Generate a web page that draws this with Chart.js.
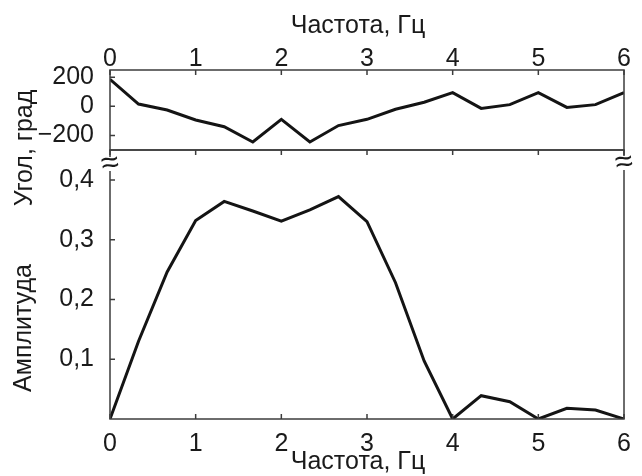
<!DOCTYPE html>
<html>
<head>
<meta charset="utf-8">
<script src="https://cdn.jsdelivr.net/npm/chart.js@4/dist/chart.umd.min.js"></script>
<style>
  html, body { margin: 0; padding: 0; background: #ffffff; }
  #wrap { position: relative; width: 642px; height: 476px; }
  #wrap canvas { position: absolute; left: 0; top: 0; }
</style>
</head>
<body>
<div id="wrap">
  <canvas id="phaseChart" width="642" height="476"></canvas>
  <canvas id="ampChart" width="642" height="476"></canvas>
</div>
<script>
// Frequency samples, Hz (step 1/3 Hz)
const freq = [0, 0.333, 0.667, 1, 1.333, 1.667, 2, 2.333, 2.667, 3,
              3.333, 3.667, 4, 4.333, 4.667, 5, 5.333, 5.667, 6];
// Phase angle, degrees
const phase = [186, 16, -25, -94, -140, -245, -89, -245, -132, -89,
               -20, 28, 94, -14, 12, 94, -7, 12, 94];
// Amplitude
const amplitude = [0, 0.13, 0.246, 0.332, 0.364, 0.348, 0.331, 0.350, 0.372, 0.330,
                   0.228, 0.097, 0, 0.039, 0.029, 0, 0.018, 0.015, 0];

const freqTicks = [0, 1, 2, 3, 4, 5, 6];
const phaseTicks = [-200, 0, 200];
const ampTicks = [0.1, 0.2, 0.3, 0.4];

const xTitle = 'Частота, Гц';
const phaseTitle = 'Угол, град';
const ampTitle = 'Амплитуда';

const FONT = '"Liberation Sans", Arial, Helvetica, sans-serif';
const FONT_SIZE = 25;
const TEXT = '#1a1a1a';
const FRAME = '#3c3c3c';
const LINE = '#141414';

Chart.defaults.font.family = FONT;
Chart.defaults.color = TEXT;

// Box round the plot area with short inward tick marks
const framePlugin = {
  id: 'frame',
  afterDatasetsDraw(chart, args, opts) {
    const { ctx, chartArea: a, scales } = chart;
    const len = 5;
    ctx.save();
    ctx.strokeStyle = FRAME;
    ctx.lineWidth = 1.5;
    ctx.strokeRect(a.left, a.top, a.right - a.left, a.bottom - a.top);
    ctx.beginPath();
    scales.x.ticks.forEach(t => {
      const px = scales.x.getPixelForValue(t.value);
      if (opts.top) { ctx.moveTo(px, a.top); ctx.lineTo(px, a.top + len); }
      if (opts.bottom) { ctx.moveTo(px, a.bottom); ctx.lineTo(px, a.bottom - len); }
    });
    scales.y.ticks.forEach(t => {
      const py = scales.y.getPixelForValue(t.value);
      ctx.moveTo(a.left, py); ctx.lineTo(a.left + len, py);
    });
    ctx.stroke();
    ctx.restore();
  }
};

// Axis titles and axis-break marks
const labelPlugin = {
  id: 'labels',
  afterDraw(chart, args, opts) {
    const ctx = chart.ctx;
    ctx.save();
    (opts.items || []).forEach(it => {
      ctx.save();
      ctx.translate(it.x, it.y);
      if (it.gap) {
        // break in the axis line under the mark
        ctx.fillStyle = '#ffffff';
        ctx.fillRect(-3, -it.gap / 2, 6, it.gap);
      }
      ctx.rotate((it.rot || 0) * Math.PI / 180);
      ctx.fillStyle = TEXT;
      ctx.font = it.font || (FONT_SIZE + 'px ' + FONT);
      ctx.textAlign = 'center';
      ctx.textBaseline = it.baseline || 'middle';
      ctx.fillText(it.text, 0, 0);
      ctx.restore();
    });
    ctx.restore();
  }
};

const tickFont = { family: FONT, size: FONT_SIZE };

function lineDataset(ys) {
  return {
    data: freq.map((f, i) => ({ x: f, y: ys[i] })),
    borderColor: LINE,
    borderWidth: 3,
    pointRadius: 0,
    tension: 0,
    fill: false,
    borderJoinStyle: 'miter'
  };
}

// Phase panel (top)
new Chart(document.getElementById('phaseChart'), {
  type: 'line',
  data: { datasets: [lineDataset(phase)] },
  options: {
    responsive: false,
    animation: false,
    devicePixelRatio: 1,
    layout: { padding: { left: 0, right: 18, top: 0, bottom: 326 } },
    plugins: {
      legend: { display: false },
      tooltip: { enabled: false },
      frame: { top: true, bottom: false },
      labels: {
        items: [
          { text: xTitle, x: 358, y: 33, baseline: 'alphabetic' },
          { text: phaseTitle, x: 25, y: 148, rot: -90 }
        ]
      }
    },
    scales: {
      x: {
        type: 'linear', position: 'top', min: 0, max: 6,
        grid: { display: false }, border: { display: false },
        ticks: { font: tickFont, color: TEXT, padding: -12, maxRotation: 0 },
        afterBuildTicks: s => { s.ticks = freqTicks.map(v => ({ value: v })); },
        afterFit: s => { s.height = 70; }
      },
      y: {
        type: 'linear', position: 'left', min: -300, max: 250,
        grid: { display: false }, border: { display: false },
        ticks: {
          font: tickFont, color: TEXT, padding: 8,
          callback: v => (v < 0 ? '\u2212' + Math.abs(v) : String(v))
        },
        afterBuildTicks: s => { s.ticks = phaseTicks.map(v => ({ value: v })); },
        afterFit: s => { s.width = 110; }
      }
    }
  },
  plugins: [framePlugin, labelPlugin]
});

// Amplitude panel (bottom)
new Chart(document.getElementById('ampChart'), {
  type: 'line',
  data: { datasets: [lineDataset(amplitude)] },
  options: {
    responsive: false,
    animation: false,
    devicePixelRatio: 1,
    layout: { padding: { left: 0, right: 18, top: 150, bottom: 0 } },
    plugins: {
      legend: { display: false },
      tooltip: { enabled: false },
      frame: { top: true, bottom: true },
      labels: {
        items: [
          { text: xTitle, x: 358, y: 469, baseline: 'alphabetic' },
          { text: ampTitle, x: 24, y: 328, rot: -90 },
          { text: '\u2248', x: 110, y: 164, rot: -10, gap: 14, font: '32px ' + FONT },
          { text: '\u2248', x: 624, y: 163, rot: -10, gap: 14, font: '32px ' + FONT }
        ]
      }
    },
    scales: {
      x: {
        type: 'linear', position: 'bottom', min: 0, max: 6,
        grid: { display: false }, border: { display: false },
        ticks: { font: tickFont, color: TEXT, padding: 2, maxRotation: 0 },
        afterBuildTicks: s => { s.ticks = freqTicks.map(v => ({ value: v })); },
        afterFit: s => { s.height = 57; }
      },
      y: {
        type: 'linear', position: 'left', min: 0, max: 0.45,
        grid: { display: false }, border: { display: false },
        ticks: {
          font: tickFont, color: TEXT, padding: 8,
          callback: v => v.toFixed(1).replace('.', ',')
        },
        afterBuildTicks: s => { s.ticks = ampTicks.map(v => ({ value: v })); },
        afterFit: s => { s.width = 110; }
      }
    }
  },
  plugins: [framePlugin, labelPlugin]
});
</script>
</body>
</html>
